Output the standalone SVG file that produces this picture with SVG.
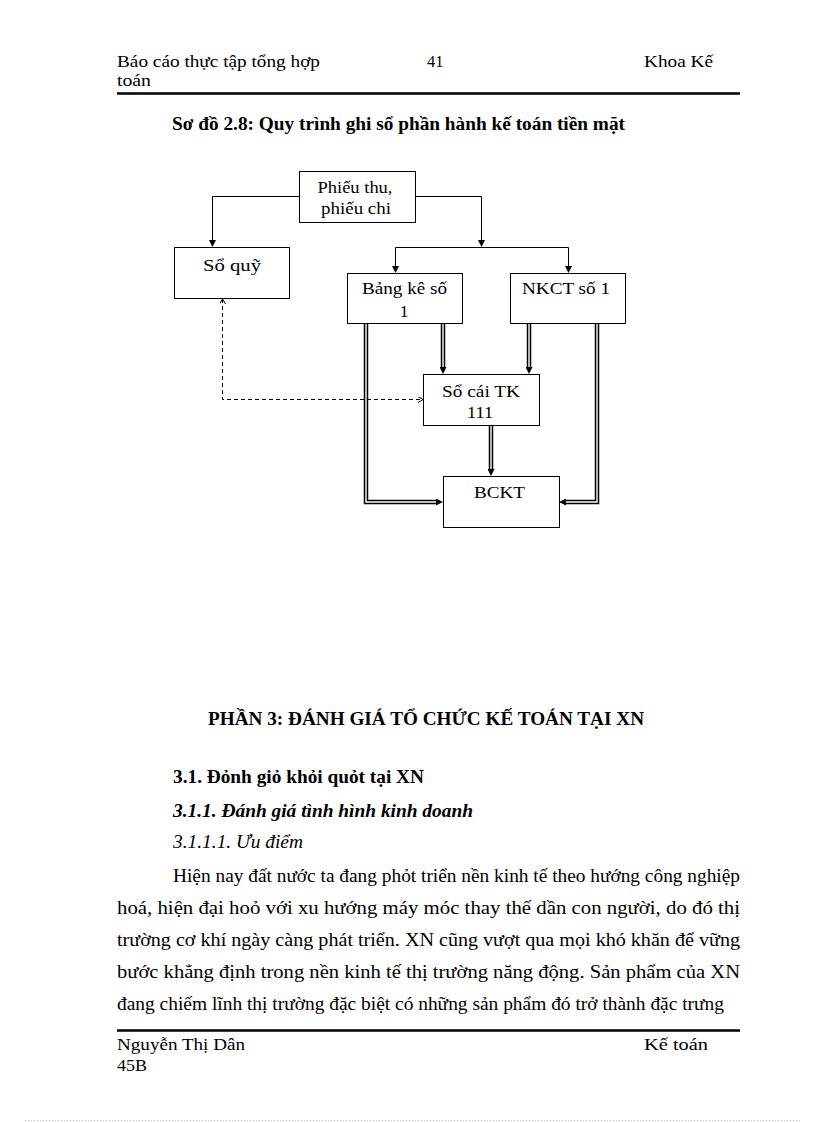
<svg xmlns="http://www.w3.org/2000/svg" width="816" height="1123" viewBox="0 0 816 1123">
<style>
text{font-family:"Liberation Serif","Times New Roman",serif;fill:#000}
.hd{font-size:16.5px}
.bx{font-size:17.5px;text-anchor:middle}
.body{font-size:18px}
.b{font-weight:bold}
.i{font-style:italic}
.node rect{fill:#fff;stroke:#000;stroke-width:1}
.single{fill:none;stroke:#000;stroke-width:1}
.dblo{fill:none;stroke:#000;stroke-width:4.5;stroke-linejoin:miter}
.dbli{fill:none;stroke:#fff;stroke-width:1.4;stroke-linejoin:miter}
.dash{fill:none;stroke:#000;stroke-width:1;stroke-dasharray:4 3}
.rule{stroke:#000;stroke-width:2.5}
</style>
<defs>
<marker id="ah" markerUnits="userSpaceOnUse" viewBox="0 0 7 7" refX="0" refY="3.5" markerWidth="7" markerHeight="7" orient="auto">
<path d="M0,0 L7,3.5 L0,7 z" fill="#000"/>
</marker>
<marker id="oh" markerUnits="userSpaceOnUse" viewBox="0 0 5 6" refX="5" refY="3" markerWidth="5" markerHeight="6" orient="auto-start-reverse">
<path d="M0,0 L5,3 L0,6" fill="none" stroke="#000" stroke-width="1"/>
</marker>
</defs>
<rect width="816" height="1123" fill="#fff"/>

<!-- header -->
<text class="hd" x="117" y="67" textLength="203" lengthAdjust="spacingAndGlyphs">Báo cáo thực tập tổng hợp</text>
<text class="hd" x="117" y="86" textLength="34" lengthAdjust="spacingAndGlyphs">toán</text>
<text class="hd" x="427" y="67">41</text>
<text class="hd" x="644" y="67" textLength="69" lengthAdjust="spacingAndGlyphs">Khoa Kế</text>
<line class="rule" x1="117" y1="93.5" x2="740" y2="93.5"/>

<text class="body b" x="172" y="130" textLength="453" lengthAdjust="spacingAndGlyphs">Sơ đồ 2.8: Quy trình ghi sổ phần hành kế toán tiền mặt</text>

<!-- connectors -->
<g id="connectors">
<path class="single" d="M299 196.5 H212.5 V240" marker-end="url(#ah)"/>
<path class="single" d="M415 196.5 H481.5 V240" marker-end="url(#ah)"/>
<path class="single" d="M395.5 247.5 H568.5"/>
<path class="single" d="M395.5 247.5 V266" marker-end="url(#ah)"/>
<path class="single" d="M568.5 247.5 V266" marker-end="url(#ah)"/>

<path class="dblo" d="M366 323 V502 H436" marker-end="url(#ah)"/>
<path class="dbli" d="M366 323 V502 H436"/>
<path class="dblo" d="M443 323 V367" marker-end="url(#ah)"/>
<path class="dbli" d="M443 323 V367"/>
<path class="dblo" d="M529 323 V367" marker-end="url(#ah)"/>
<path class="dbli" d="M529 323 V367"/>
<path class="dblo" d="M597 323 V502 H566" marker-end="url(#ah)"/>
<path class="dbli" d="M597 323 V502 H566"/>
<path class="dblo" d="M491 425 V469" marker-end="url(#ah)"/>
<path class="dbli" d="M491 425 V469"/>

<path class="dash" d="M222.5 299 V399.5 H423" marker-start="url(#oh)" marker-end="url(#oh)"/>
</g>

<!-- nodes -->
<g id="phieu" class="node">
<rect x="299.5" y="171.5" width="116" height="51"/>
<text class="bx" x="355" y="193" textLength="75" lengthAdjust="spacingAndGlyphs">Phiếu thu,</text>
<text class="bx" x="356" y="214" textLength="70" lengthAdjust="spacingAndGlyphs">phiếu chi</text>
</g>
<g id="soquy" class="node">
<rect x="174.5" y="247.5" width="115" height="51"/>
<text class="bx" x="232" y="271" textLength="58" lengthAdjust="spacingAndGlyphs">Sổ quỹ</text>
</g>
<g id="bangke" class="node">
<rect x="347.5" y="273.5" width="115" height="50"/>
<text class="bx" x="404.5" y="294" textLength="85" lengthAdjust="spacingAndGlyphs">Bảng kê số</text>
<text class="bx" x="404" y="317">1</text>
</g>
<g id="nkct" class="node">
<rect x="510.5" y="273.5" width="115" height="50"/>
<text class="bx" x="566" y="294" textLength="88" lengthAdjust="spacingAndGlyphs">NKCT số 1</text>
</g>
<g id="socai" class="node">
<rect x="423.5" y="374.5" width="116" height="51"/>
<text class="bx" x="481" y="397" textLength="78" lengthAdjust="spacingAndGlyphs">Sổ cái TK</text>
<text class="bx" x="480" y="418" textLength="26" lengthAdjust="spacingAndGlyphs">111</text>
</g>
<g id="bckt" class="node">
<rect x="443.5" y="476.5" width="116" height="51"/>
<text class="bx" x="499.5" y="498" textLength="51" lengthAdjust="spacingAndGlyphs">BCKT</text>
</g>

<!-- section text -->
<text class="body b" x="208" y="725" style="font-size:18.5px" textLength="436" lengthAdjust="spacingAndGlyphs">PHẦN 3: ĐÁNH GIÁ TỔ CHỨC KẾ TOÁN TẠI XN</text>
<text class="body b" x="173" y="783" textLength="251" lengthAdjust="spacingAndGlyphs">3.1. Đỏnh giỏ khỏi quỏt tại XN</text>
<text class="body b i" x="173" y="817" textLength="300" lengthAdjust="spacingAndGlyphs">3.1.1. Đánh giá tình hình kinh doanh</text>
<text class="body i" x="173" y="848" textLength="130" lengthAdjust="spacingAndGlyphs">3.1.1.1. Ưu điểm</text>

<text class="body" x="173" y="882" textLength="567" lengthAdjust="spacingAndGlyphs">Hiện nay đất nước ta đang phỏt triển nền kinh tế theo hướng công nghiệp</text>
<text class="body" x="117" y="914" textLength="623" lengthAdjust="spacingAndGlyphs">hoá, hiện đại hoỏ với xu hướng máy móc thay thế dần con người, do đó thị</text>
<text class="body" x="117" y="946" textLength="623" lengthAdjust="spacingAndGlyphs">trường cơ khí ngày càng phát triển. XN cũng vượt qua mọi khó khăn để vững</text>
<text class="body" x="117" y="978" textLength="623" lengthAdjust="spacingAndGlyphs">bước khẳng định trong nền kinh tế thị trường năng động. Sản phẩm của XN</text>
<text class="body" x="117" y="1010" textLength="607" lengthAdjust="spacingAndGlyphs">đang chiếm lĩnh thị trường đặc biệt có những sản phẩm đó trở thành đặc trưng</text>

<!-- footer -->
<line class="rule" x1="117" y1="1030.5" x2="740" y2="1030.5"/>
<text class="hd" x="117" y="1050" textLength="128" lengthAdjust="spacingAndGlyphs">Nguyễn Thị Dân</text>
<text class="hd" x="117" y="1071" textLength="30" lengthAdjust="spacingAndGlyphs">45B</text>
<text class="hd" x="644" y="1050" textLength="64" lengthAdjust="spacingAndGlyphs">Kế toán</text>
<line x1="25" y1="1120.5" x2="800" y2="1120.5" stroke="#bbb" stroke-width="1" stroke-dasharray="1 2"/>
</svg>
